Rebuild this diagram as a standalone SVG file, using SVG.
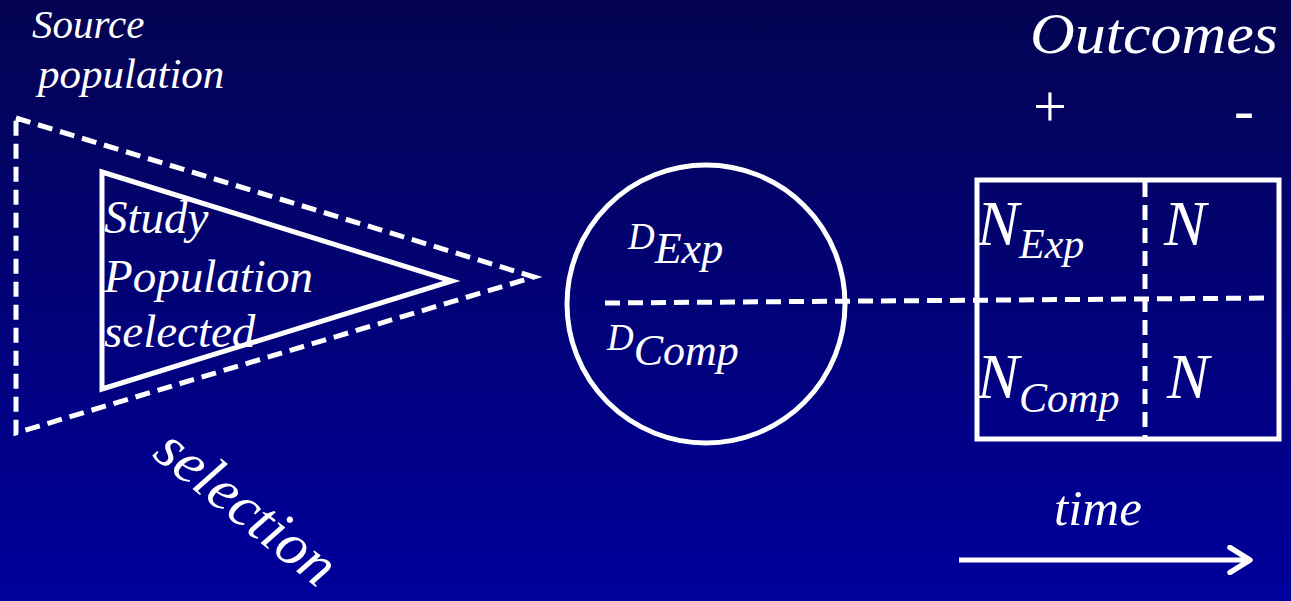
<svg xmlns="http://www.w3.org/2000/svg" width="1291" height="601" viewBox="0 0 1291 601">
<defs>
<linearGradient id="bg" x1="0" y1="0" x2="0" y2="1">
<stop offset="0" stop-color="#040452"/>
<stop offset="1" stop-color="#00009c"/>
</linearGradient>
<marker id="arr" viewBox="0 0 12 12" refX="10" refY="6" markerWidth="6" markerHeight="6" markerUnits="strokeWidth" orient="auto">
<path d="M2,1 L10,6 L2,11" fill="none" stroke="#fff" stroke-width="2.2" stroke-linecap="round" stroke-linejoin="round"/>
</marker>
<style>
.t{font-family:"Liberation Serif","Times New Roman",serif;font-style:italic;fill:#fff}
.u{font-family:"Liberation Serif","Times New Roman",serif;fill:#fff}
.solid{fill:none;stroke:#fff;stroke-width:5}
.dash{fill:none;stroke:#fff;stroke-width:5;stroke-dasharray:15 8}
</style>
</defs>
<rect x="0" y="0" width="1291" height="601" fill="url(#bg)"/>

<g id="source-population">
<polygon class="dash" points="16,118 534,277 16,433"/>
<text class="t" x="32" y="38" font-size="41">Source</text>
<text class="t" x="38" y="88" font-size="43">population</text>
</g>

<g id="study-population">
<polygon class="solid" points="102,172 452,281 102,389" stroke-linejoin="miter"/>
<text class="t" x="104" y="233" font-size="47">Study</text>
<text class="t" x="104" y="292" font-size="47">Population</text>
<text class="t" x="104" y="347" font-size="47">selected</text>
</g>

<g id="selection-label">
<text class="t" x="151" y="456" font-size="60" transform="rotate(38.5 151 456)">selection</text>
</g>

<g id="exposure-circle">
<circle class="solid" cx="706" cy="304" r="139"/>
<text class="t" x="628" y="249" font-size="37">D<tspan font-size="44" dy="14">Exp</tspan></text>
<text class="t" x="607" y="350" font-size="37">D<tspan font-size="44" dy="15">Comp</tspan></text>
</g>

<g id="outcome-table">
<rect class="solid" x="977" y="180" width="302" height="259"/>
<text class="t" x="977" y="245" font-size="63">N<tspan font-size="42" dy="13">Exp</tspan></text>
<text class="t" x="1164" y="245" font-size="63">N</text>
<text class="t" x="977" y="398" font-size="63">N<tspan font-size="42" dy="14">Comp</tspan></text>
<text class="t" x="1167" y="398" font-size="63">N</text>
</g>

<g id="outcomes-header">
<text class="t" x="1030" y="53" font-size="58" textLength="248" lengthAdjust="spacingAndGlyphs">Outcomes</text>
<text class="u" x="1050" y="126" font-size="60" text-anchor="middle">+</text>
<text class="t" x="1234" y="130" font-size="60">-</text>
</g>

<g id="time-axis">
<text class="t" x="1054" y="525" font-size="51">time</text>
</g>

<g id="connectors">
<line class="dash" x1="605" y1="303" x2="1272" y2="298"/>
<line class="dash" x1="1145" y1="182" x2="1145" y2="437"/>
<line x1="959" y1="560" x2="1250" y2="560" stroke="#fff" stroke-width="5" marker-end="url(#arr)"/>
</g>
</svg>
